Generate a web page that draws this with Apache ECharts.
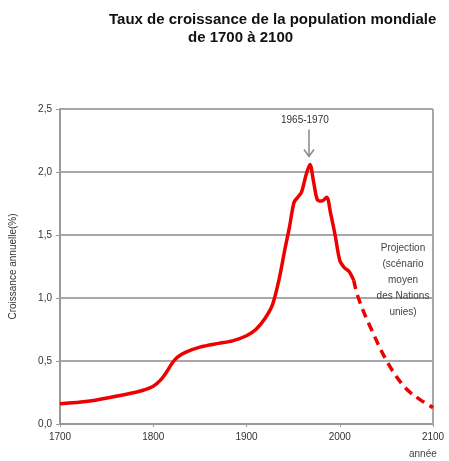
<!DOCTYPE html>
<html>
<head>
<meta charset="utf-8">
<script src="https://cdn.jsdelivr.net/npm/echarts@6/dist/echarts.min.js"></script>
<style>html,body{margin:0;padding:0;background:#fff}#c{width:449px;height:461px}</style>
</head>
<body>
<div id="c"></div>
<script>
var histYears = [1700,1730,1760,1780,1790,1800,1808,1815,1820,1826,1835,1850,1870,1885,1900,1910,1920,1928,1935,1941,1946,1951,1955,1959,1964,1968,1972,1976,1981,1986,1990,1995,2000,2005,2010,2015];
var histValues = [0.16,0.18,0.22,0.25,0.27,0.30,0.35,0.42,0.48,0.53,0.57,0.61,0.64,0.66,0.70,0.75,0.84,0.95,1.15,1.38,1.56,1.76,1.80,1.84,1.98,2.06,1.92,1.78,1.77,1.80,1.68,1.50,1.30,1.24,1.21,1.14];
var projYears = [2015,2020,2034,2052,2070,2085,2100];
var projValues = [1.14,1.00,0.75,0.48,0.29,0.20,0.13];
var yTicks = [0,0.5,1.0,1.5,2.0,2.5];
var xTicks = [1700,1800,1900,2000,2100];

function pairs(xs, ys){ return xs.map(function(x,i){ return [x, ys[i]]; }); }

var chart = echarts.init(document.getElementById('c'));
var font = '"Liberation Sans", Arial, sans-serif';
chart.setOption({
  animation: false,
  title: [
    {text: 'Taux de croissance de la population mondiale', left: 104, top: 7,
     textStyle: {fontFamily: font, fontSize: 15, fontWeight: 'bold', color: '#111'}},
    {text: 'de 1700 à 2100', left: 183, top: 25,
     textStyle: {fontFamily: font, fontSize: 15, fontWeight: 'bold', color: '#111'}}
  ],
  grid: {left: 59, right: 16, top: 109, bottom: 37},
  xAxis: {
    type: 'value', min: 1700, max: 2100, interval: 100,
    axisLine: {show: true, lineStyle: {color: '#999', width: 2}},
    axisTick: {show: true, length: 3, lineStyle: {color: '#999'}},
    splitLine: {show: false},
    axisLabel: {fontFamily: font, fontSize: 10, color: '#333', margin: 8,
      formatter: function(v){ return String(v); }}
  },
  yAxis: {
    type: 'value', min: 0, max: 2.5, interval: 0.5,
    name: 'Croissance annuelle(%)', nameLocation: 'middle', nameGap: 42,
    nameTextStyle: {fontFamily: font, fontSize: 10, color: '#333'},
    axisLine: {show: true, lineStyle: {color: '#999', width: 2}},
    axisTick: {show: true, length: 4, lineStyle: {color: '#999'}},
    splitLine: {show: true, lineStyle: {color: '#a8a8a8', width: 2}},
    axisLabel: {fontFamily: font, fontSize: 10, color: '#333', margin: 8,
      formatter: function(v){ return v.toFixed(1).replace('.', ','); }}
  },
  series: [
    {type: 'line', data: pairs(histYears, histValues), smooth: 0.3, showSymbol: false,
     lineStyle: {color: '#ee0000', width: 3.5}},
    {type: 'line', data: pairs(projYears, projValues), smooth: 0.4, showSymbol: false,
     lineStyle: {color: '#ee0000', width: 3.5, type: [9, 6]}}
  ]
});

var right = chart.convertToPixel({gridIndex: 0}, [2100, 2.5]);
var peak = chart.convertToPixel({gridIndex: 0}, [1967, 2.06]);
chart.setOption({
  graphic: [
    {type: 'rect', shape: {x: right[0] - 1, y: right[1], width: 2, height: 315}, style: {fill: '#a8a8a8'}, z: 1},
    {type: 'text', left: peak[0] - 28, top: peak[1] - 49, style: {text: '1965-1970', font: '10px ' + font, fill: '#333'}},
    {type: 'line', shape: {x1: peak[0], y1: peak[1] - 35, x2: peak[0], y2: peak[1] - 9}, style: {stroke: '#888', lineWidth: 1.5}},
    {type: 'polyline', shape: {points: [[peak[0] - 5, peak[1] - 15], [peak[0], peak[1] - 8], [peak[0] + 5, peak[1] - 15]]}, style: {stroke: '#888', lineWidth: 1.5, fill: null}},
    {type: 'text', x: 403, y: 240, style: {text: 'Projection\n(scénario\nmoyen\ndes Nations\nunies)', font: '10px ' + font, fill: '#444', align: 'center', lineHeight: 16}},
    {type: 'text', x: 409, y: 449, style: {text: 'année', font: '10px ' + font, fill: '#444'}}
  ]
});
</script>
</body>
</html>
